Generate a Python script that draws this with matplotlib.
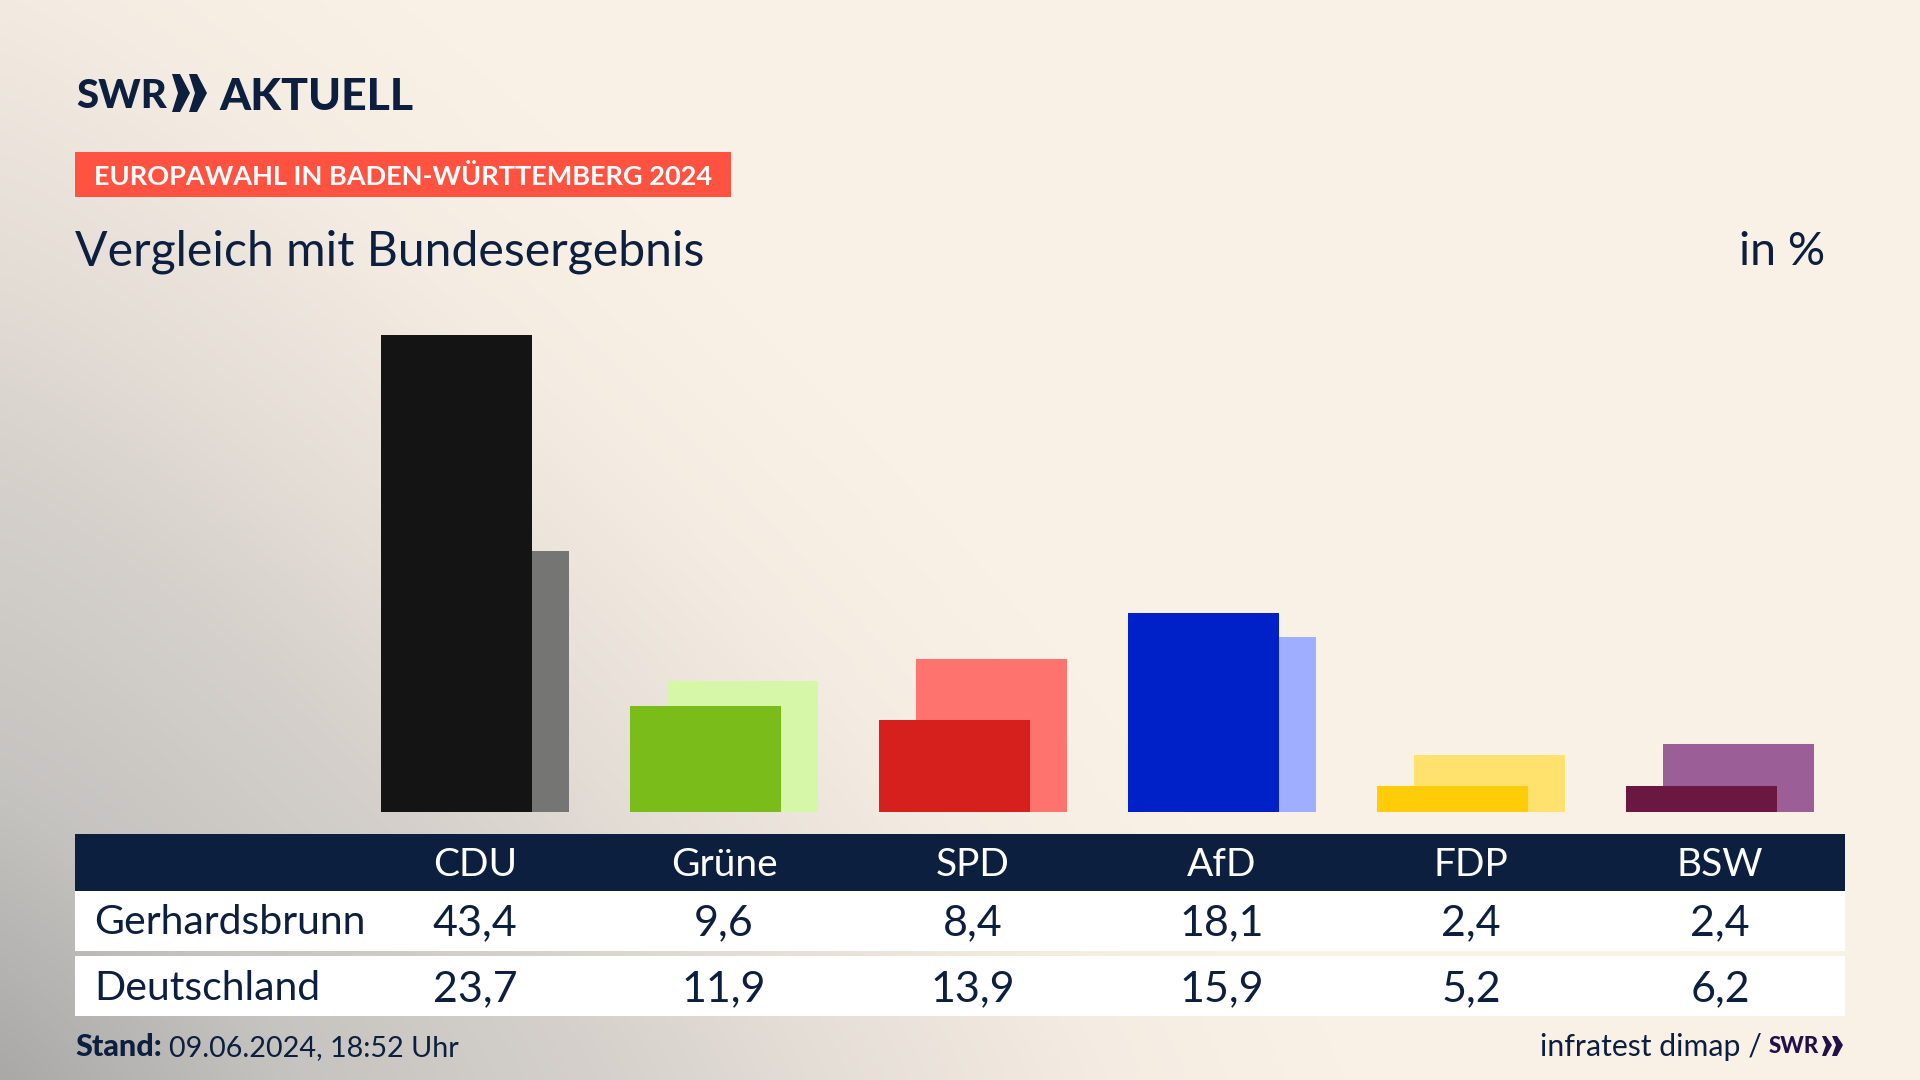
import numpy as np
import matplotlib
matplotlib.use("Agg")
import matplotlib.pyplot as plt
from matplotlib.patches import Rectangle, Polygon
from matplotlib.colors import LinearSegmentedColormap
from matplotlib.transforms import blended_transform_factory

parties = ["CDU", "Grüne", "SPD", "AfD", "FDP", "BSW"]
gerhardsbrunn = [43.4, 9.6, 8.4, 18.1, 2.4, 2.4]
deutschland = [23.7, 11.9, 13.9, 15.9, 5.2, 6.2]
front_colors = ["#141414", "#7ABC1A", "#D6201E", "#0020C8", "#FFCC0A", "#6A1841"]
back_colors = ["#757573", "#D6F6A8", "#FF736E", "#A0AEFF", "#FFE26E", "#9B5E96"]
row_names = ["Gerhardsbrunn", "Deutschland"]

NAVY = "#0C1F3F"
CREAM = "#FAF1E6"
plt.rcParams["font.family"] = ["Lato", "DejaVu Sans"]


def fmt(v):
    return f"{v:.1f}".replace(".", ",")


fig = plt.figure(figsize=(19.2, 10.8), dpi=100)

canvas = fig.add_axes([0, 0, 1, 1])
canvas.set_xlim(0, 1920)
canvas.set_ylim(1080, 0)
canvas.axis("off")

yy, xx = np.mgrid[0:1080:270j, 0:1920:480j]
r = ((xx / 1350.0) ** 1.2 + ((1080 - yy) / 1350.0) ** 1.2) ** (1 / 1.2)
cmap = LinearSegmentedColormap.from_list(
    "bg", [(0, "#A9A9A8"), (0.22, "#C6C4C0"), (0.44, "#D5D0CB"), (0.6, "#E4DDD6"),
           (0.82, "#F4ECE2"), (1, CREAM)]
)
canvas.imshow(np.clip(r, 0, 1), cmap=cmap, vmin=0, vmax=1,
              extent=(0, 1920, 1080, 0), aspect="auto", zorder=0,
              interpolation="bilinear")

left, right, bottom, top = 75, 1845, 812, 280
ax = fig.add_axes([left / 1920, 1 - bottom / 1080, (right - left) / 1920, (bottom - top) / 1080])
ax.patch.set_alpha(0)
ax.set_xlim((left - 475) / 249, (right - 475) / 249)
ax.set_ylim(0, (bottom - top) / 11.0)
ax.axis("off")
x = np.arange(len(parties))
ax.bar(x + 0.0745, deutschland, width=0.61, color=back_colors, zorder=2)
ax.bar(x - 0.0745, gerhardsbrunn, width=0.61, color=front_colors, zorder=3)

canvas.add_patch(Rectangle((75, 834), 1770, 57, color=NAVY, lw=0, zorder=1))
canvas.add_patch(Rectangle((75, 891), 1770, 60, color="white", lw=0, zorder=1))
canvas.add_patch(Rectangle((75, 956), 1770, 60, color="white", lw=0, zorder=1))
trans = blended_transform_factory(ax.transData, canvas.transData)
for i, p in enumerate(parties):
    ax.text(i, 876, p, transform=trans, ha="center", va="baseline", color="white",
            fontsize=28, clip_on=False, zorder=5)
    ax.text(i, 935, fmt(gerhardsbrunn[i]), transform=trans, ha="center", va="baseline",
            color=NAVY, fontsize=31, clip_on=False, zorder=5)
    ax.text(i, 1001, fmt(deutschland[i]), transform=trans, ha="center", va="baseline",
            color=NAVY, fontsize=31, clip_on=False, zorder=5)
canvas.text(94, 934, row_names[0], color=NAVY, fontsize=29.5, va="baseline")
canvas.text(94, 1000, row_names[1], color=NAVY, fontsize=29.5, va="baseline")

canvas.text(76, 108, "SWR", color=NAVY, fontsize=29, fontweight="black", va="baseline")
canvas.add_patch(Polygon([(172, 74), (180, 74), (190, 93), (180, 112), (172, 112), (178, 93)], color=NAVY, lw=0))
canvas.add_patch(Polygon([(189, 74), (197, 74), (207, 93), (197, 112), (189, 112), (195, 93)], color=NAVY, lw=0))
canvas.text(219, 110, "AKTUELL", color=NAVY, fontsize=32, fontweight="black", va="baseline")

canvas.add_patch(Rectangle((75, 152), 656, 45, color="#FF5240", lw=0, zorder=1))
canvas.text(94, 185, "EUROPAWAHL IN BADEN-WÜRTTEMBERG 2024", color="white", fontsize=19.5,
            fontweight="bold", va="baseline")
canvas.text(75, 265, "Vergleich mit Bundesergebnis", color=NAVY, fontsize=34.7, va="baseline")
canvas.text(1825, 265, "in %", color=NAVY, fontsize=33.5, va="baseline", ha="right")

canvas.text(75, 1056, "Stand:", color=NAVY, fontsize=22, fontweight="black", va="baseline")
canvas.text(169, 1056, "09.06.2024, 18:52 Uhr", color=NAVY, fontsize=20.7, va="baseline")
canvas.text(1762, 1056, "infratest dimap /", color=NAVY, fontsize=21.8, va="baseline", ha="right")
canvas.text(1769, 1053, "SWR", color="#21104A", fontsize=16, fontweight="black", va="baseline")
canvas.add_patch(Polygon([(1822, 1036), (1826, 1036), (1832, 1045), (1826, 1056), (1822, 1056), (1826, 1045)], color="#21104A", lw=0))
canvas.add_patch(Polygon([(1832, 1036), (1837, 1036), (1843, 1045), (1837, 1056), (1832, 1056), (1836, 1045)], color="#21104A", lw=0))

fig.savefig("out.png", dpi=100)
